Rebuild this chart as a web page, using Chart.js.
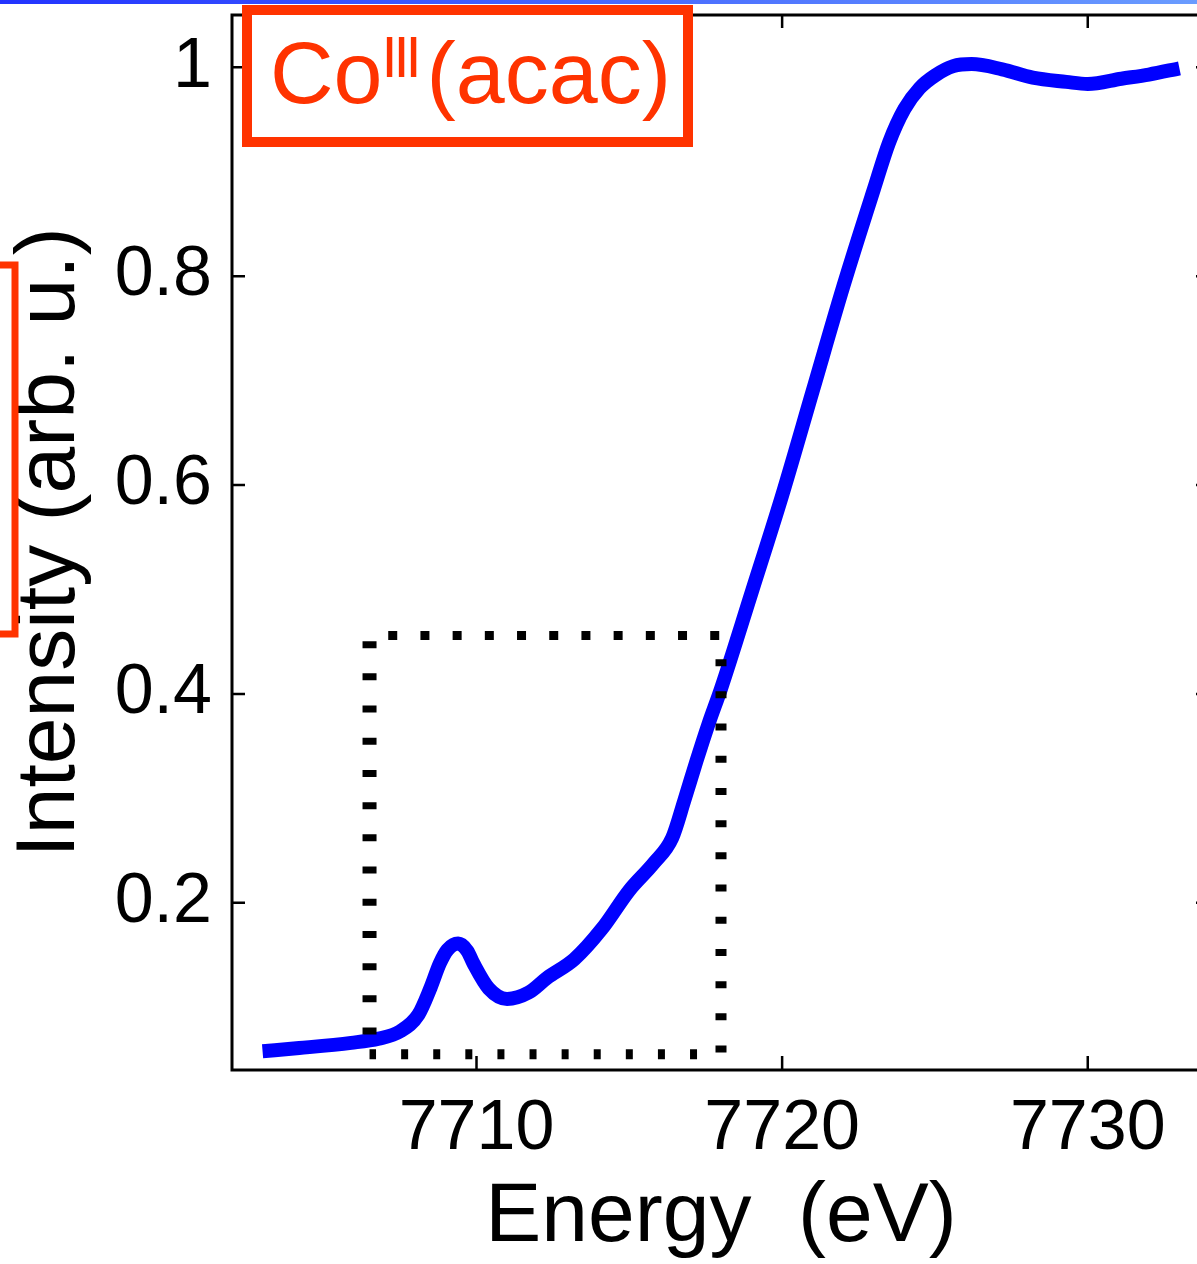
<!DOCTYPE html>
<html>
<head>
<meta charset="utf-8">
<title>Co(III)(acac) XANES</title>
<script src="https://cdn.jsdelivr.net/npm/chart.js@4.4.1/dist/chart.umd.min.js"></script>
<style>
  html, body { margin: 0; padding: 0; background: #fff; overflow: hidden; }
  body { width: 1197px; height: 1264px; position: relative; }
  #topbar { position: absolute; left: 0; top: 0; width: 1197px; height: 4px; z-index: 2;
            background: linear-gradient(to right, #2233ff, #6a9cff); }
  #xas { position: absolute; left: 0; top: 0; }
</style>
</head>
<body>
<div id="topbar"></div>
<canvas id="xas" width="1222" height="1264"></canvas>
<script>
// spectrum (eV / arb. u.)
const energy = [7703.0, 7704.2, 7705.9, 7706.8, 7707.5, 7708.1, 7708.5, 7708.8, 7709.05, 7709.4,
  7709.7, 7709.9, 7710.4, 7711.0, 7711.7, 7712.3, 7713.2, 7714.1, 7715.0, 7715.8,
  7716.4, 7716.8, 7717.2, 7717.6, 7718.0, 7719.0, 7720.0, 7721.0, 7722.0, 7723.0,
  7723.5, 7724.0, 7724.5, 7725.0, 7725.6, 7726.2, 7727.2, 7728.2, 7729.3, 7730.0,
  7731.1, 7732.0, 7733.0];
const intensity = [0.058, 0.061, 0.066, 0.070, 0.077, 0.093, 0.119, 0.142, 0.155, 0.161,
  0.154, 0.142, 0.118, 0.108, 0.114, 0.128, 0.146, 0.175, 0.212, 0.238,
  0.262, 0.298, 0.336, 0.372, 0.405, 0.497, 0.590, 0.690, 0.790, 0.883,
  0.928, 0.960, 0.980, 0.992, 1.001, 1.003, 0.998, 0.990, 0.986, 0.984,
  0.989, 0.993, 0.999];

// dotted pre-edge window
const boxEnergy = [7706.5, 7718.0];
const boxIntensity = [0.055, 0.456];

const xTicks = [7710, 7720, 7730];
const yTicks = [0.2, 0.4, 0.6, 0.8, 1];
const yTickLabels = ['0.2', '0.4', '0.6', '0.8', '1'];

const FONT = "'Liberation Sans', Arial, sans-serif";
const RED = '#ff3300';

// one edge of the dotted box
function edge(x0, y0, x1, y1, width, dash, offset) {
  return {
    data: [{ x: x0, y: y0 }, { x: x1, y: y1 }],
    borderColor: '#000',
    borderWidth: width,
    borderDash: dash,
    borderDashOffset: offset,
    borderCapStyle: 'butt',
    pointRadius: 0,
    fill: false,
    order: 0
  };
}

// frame with inward ticks + the red labels
const frame = {
  id: 'frame',
  afterDraw(chart) {
    const { ctx, chartArea: a, scales: { x, y } } = chart;
    ctx.save();
    ctx.strokeStyle = '#000';
    ctx.lineWidth = 3;
    ctx.strokeRect(a.left, a.top, a.right - a.left, a.bottom - a.top);

    ctx.lineWidth = 2.5;
    ctx.beginPath();
    xTicks.forEach(v => {
      const px = x.getPixelForValue(v);
      ctx.moveTo(px, a.bottom); ctx.lineTo(px, a.bottom - 14);
      ctx.moveTo(px, a.top);    ctx.lineTo(px, a.top + 13);
    });
    yTicks.forEach(v => {
      const py = y.getPixelForValue(v);
      ctx.moveTo(a.left, py);  ctx.lineTo(a.left + 13, py);
      ctx.moveTo(a.right, py); ctx.lineTo(a.right - 14, py);
    });
    ctx.stroke();

    // label box
    const bx = a.left + 15, by = 10, bw = 441, bh = 132;
    ctx.fillStyle = '#fff';
    ctx.fillRect(bx, by, bw, bh);
    ctx.strokeStyle = RED;
    ctx.lineWidth = 10;
    ctx.strokeRect(bx, by, bw, bh);

    ctx.fillStyle = RED;
    ctx.textBaseline = 'alphabetic';
    ctx.textAlign = 'left';
    ctx.font = '88px ' + FONT;
    let tx = bx + 23;
    ctx.fillText('Co', tx, 103);
    tx += ctx.measureText('Co').width;
    ctx.font = '58px ' + FONT;
    for (let i = 0; i < 3; i++) ctx.fillText('I', tx + i * 12 - 1, 77);
    ctx.font = '88px ' + FONT;
    ctx.fillText('(acac)', tx + 44, 103);

    // edge of the neighbouring panel's box
    ctx.lineWidth = 7;
    ctx.strokeRect(-100, 265, 115, 369);
    ctx.restore();
  }
};

new Chart(document.getElementById('xas'), {
  type: 'line',
  data: {
    datasets: [
      {
        data: energy.map((e, i) => ({ x: e, y: intensity[i] })),
        borderColor: '#0000ff',
        borderWidth: 14,
        borderCapStyle: 'butt',
        borderJoinStyle: 'round',
        cubicInterpolationMode: 'monotone',
        pointRadius: 0,
        fill: false,
        order: 1
      },
      edge(boxEnergy[0], boxIntensity[1], boxEnergy[1], boxIntensity[1], 9, [9, 23.2], 13.5),
      edge(boxEnergy[0], boxIntensity[0], boxEnergy[1], boxIntensity[0], 10, [7, 25.1], 0.5),
      edge(boxEnergy[0], boxIntensity[1], boxEnergy[0], boxIntensity[0], 14, [7, 25.2], 26.5),
      edge(boxEnergy[1], boxIntensity[1], boxEnergy[1], boxIntensity[0], 11, [7, 25.2], 8.5)
    ]
  },
  options: {
    responsive: false,
    animation: false,
    devicePixelRatio: 1,
    layout: { padding: { top: 15, right: 12, bottom: 0, left: 0 } },
    plugins: { legend: { display: false }, tooltip: { enabled: false } },
    scales: {
      x: {
        type: 'linear',
        min: 7702,
        max: 7734,
        grid: { display: false, drawTicks: false },
        border: { display: false },
        afterBuildTicks: s => { s.ticks = xTicks.map(v => ({ value: v })); },
        ticks: {
          font: { family: FONT, size: 70 },
          color: '#000',
          padding: 18,
          maxRotation: 0,
          autoSkip: false,
          callback: v => String(v)
        },
        title: {
          display: true,
          text: 'Energy  (eV)',
          color: '#000',
          font: { family: FONT, size: 84, lineHeight: 1 },
          padding: { top: 0, bottom: 4 }
        },
        afterFit: s => { s.height = 194; s.paddingLeft = 0; s.paddingRight = 0; }
      },
      y: {
        min: 0.04,
        max: 1.05,
        grid: { display: false, drawTicks: false },
        border: { display: false },
        afterBuildTicks: s => { s.ticks = yTicks.map(v => ({ value: v })); },
        ticks: {
          font: { family: FONT, size: 70 },
          color: '#000',
          padding: 20,
          autoSkip: false,
          callback: (v, i) => yTickLabels[i]
        },
        title: {
          display: true,
          text: 'Intensity (arb. u.)',
          color: '#000',
          font: { family: FONT, size: 84, lineHeight: 1 },
          padding: { top: 9, bottom: 0 }
        },
        afterFit: s => { s.width = 232; s.paddingTop = 0; s.paddingBottom = 0; }
      }
    }
  },
  plugins: [frame]
});
</script>
</body>
</html>
